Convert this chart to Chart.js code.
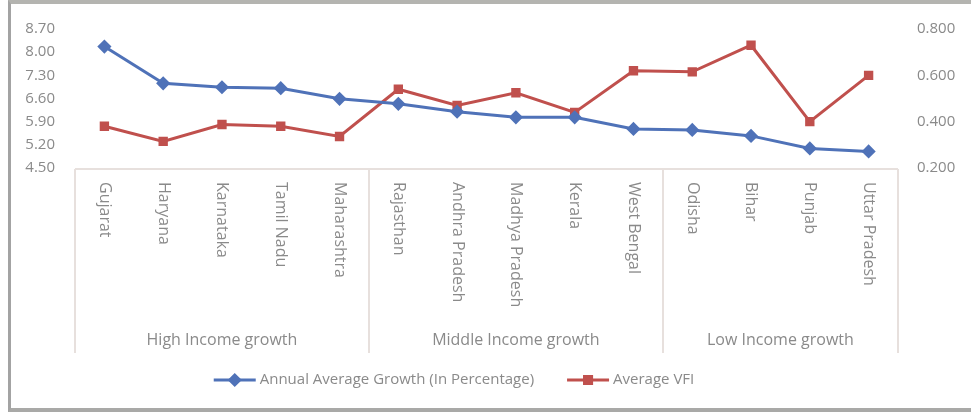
<!DOCTYPE html>
<html>
<head>
<meta charset="utf-8">
<script src="https://cdn.jsdelivr.net/npm/chart.js@4.4.1/dist/chart.umd.min.js"></script>
<style>
   html, body { margin: 0; padding: 0; background: #fff; }
   #wrap { position: absolute; left: 0; top: 0; width: 971px; height: 412px; }
   #frame {
      position: absolute; left: 8px; top: 0; width: 963px; height: 412px;
      box-sizing: border-box; pointer-events: none;
      border-left: 3px solid #a3a3a3;
      border-top: 4px solid #b4b4b0;
      border-bottom: 4px solid #a9a9a7;
   }
</style>
</head>
<body>
<div id="wrap"><canvas id="graphique"></canvas></div>
<div id="frame"></div>
<script>
const states = ["Gujarat", "Haryana", "Karnataka", "Tamil Nadu", "Maharashtra",
   "Rajasthan", "Andhra Pradesh", "Madhya Pradesh", "Kerala", "West Bengal",
   "Odisha", "Bihar", "Punjab", "Uttar Pradesh"];
const groups = ["High Income growth", "Middle Income growth", "Low Income growth"];
const groupSizes = [5, 5, 4];
const growth = [8.17, 7.06, 6.94, 6.91, 6.59, 6.44, 6.20, 6.03, 6.03, 5.68, 5.65, 5.47, 5.09, 5.00];
const vfi = [0.380, 0.315, 0.388, 0.380, 0.336, 0.540, 0.470, 0.525, 0.440, 0.620, 0.615, 0.730, 0.400, 0.600];
const leftTicks = { min: 4.5, max: 8.7, step: 0.7 };
const rightTicks = { min: 0.2, max: 0.8, step: 0.2 };

const BLUE = '#4f72b8';
const RED = '#c0504d';
const TEXT = '#8a8a8a';
const LINE = '#e7e0dd';
const FONT = '"Open Sans", sans-serif';

// category labels, group box and group names under the plot, plus the legend
const underAxis = {
   id: 'underAxis',
   afterDraw(chart) {
      const c = chart.ctx;
      const x = chart.scales.x;
      const area = chart.chartArea;
      const top = area.bottom + 1;
      const boxBottom = 353;

      c.save();
      c.strokeStyle = LINE;
      c.lineWidth = 2;
      c.beginPath();
      c.moveTo(area.left, top);
      c.lineTo(area.right, top);

      // separators at both ends and between groups
      const edges = [area.left];
      let idx = 0;
      groupSizes.forEach(n => {
         idx += n;
         if (idx < states.length) {
            edges.push((x.getPixelForValue(idx - 1) + x.getPixelForValue(idx)) / 2);
         }
      });
      edges.push(area.right);
      edges.forEach(px => {
         c.moveTo(Math.round(px), top);
         c.lineTo(Math.round(px), boxBottom);
      });
      c.stroke();

      // state names, turned to read downwards
      c.fillStyle = TEXT;
      c.font = '16px ' + FONT;
      c.textAlign = 'left';
      c.textBaseline = 'middle';
      states.forEach((s, i) => {
         c.save();
         c.translate(x.getPixelForValue(i), top + 13);
         c.rotate(Math.PI / 2);
         c.fillText(s, 0, 0);
         c.restore();
      });

      // group names
      c.font = '16px ' + FONT;
      c.textAlign = 'center';
      groups.forEach((gname, g) => {
         c.fillText(gname, (edges[g] + edges[g + 1]) / 2, 340);
      });

      // legend
      const items = chart.data.datasets.map(ds => ({
         text: ds.label, color: ds.borderColor, style: ds.pointStyle
      }));
      const sample = 42, gapText = 4, gapItem = 33;
      c.font = '15px ' + FONT;
      const widths = items.map(it => sample + gapText + c.measureText(it.text).width);
      const total = widths.reduce((a, b) => a + b, 0) + gapItem * (items.length - 1);
      let lx = 454 - total / 2;
      const ly = 380;
      c.textAlign = 'left';
      items.forEach((it, i) => {
         c.strokeStyle = it.color;
         c.lineWidth = 3;
         c.beginPath();
         c.moveTo(lx, ly);
         c.lineTo(lx + sample, ly);
         c.stroke();
         c.fillStyle = it.color;
         Chart.helpers.drawPoint(c, { pointStyle: it.style, radius: 5, borderWidth: 1 }, lx + sample / 2, ly);
         c.fillStyle = TEXT;
         c.fillText(it.text, lx + sample + gapText, ly);
         lx += widths[i] + gapItem;
      });
      c.restore();
   }
};

const ctx = document.getElementById('graphique');

const myChart = new Chart(ctx, {
   type: 'line',
   data: {
      labels: states,
      datasets: [{
         label: 'Annual Average Growth (In Percentage)',
         data: growth,
         yAxisID: 'y',
         borderColor: BLUE,
         backgroundColor: BLUE,
         borderWidth: 3,
         pointStyle: 'rectRot',
         pointRadius: 5,
         tension: 0
      }, {
         label: 'Average VFI',
         data: vfi,
         yAxisID: 'y1',
         borderColor: RED,
         backgroundColor: RED,
         borderWidth: 3,
         pointStyle: 'rect',
         pointRadius: 4.5,
         tension: 0
      }]
   },
   options: {
      responsive: true,
      maintainAspectRatio: false,
      animation: false,
      layout: {
         padding: { top: 25, left: 0, right: 0, bottom: 0 }
      },
      scales: {
         x: {
            offset: true,
            ticks: { display: false },
            grid: { display: false, drawTicks: false, offset: true },
            border: { display: false },
            afterFit(scale) { scale.height = 244; }
         },
         y: {
            position: 'left',
            min: leftTicks.min,
            max: leftTicks.max,
            ticks: {
               stepSize: leftTicks.step,
               padding: 20,
               color: TEXT,
               font: { family: FONT, size: 15 },
               callback: v => v.toFixed(2)
            },
            grid: { display: false, drawTicks: false },
            border: { display: false },
            afterFit(scale) { scale.width = 75; }
         },
         y1: {
            position: 'right',
            min: rightTicks.min,
            max: rightTicks.max,
            ticks: {
               stepSize: rightTicks.step,
               padding: 19,
               color: TEXT,
               font: { family: FONT, size: 15 },
               callback: v => v.toFixed(3)
            },
            grid: { display: false, drawTicks: false },
            border: { display: false },
            afterFit(scale) { scale.width = 73; }
         }
      },
      plugins: {
         legend: { display: false },
         tooltip: { enabled: false }
      }
   },
   plugins: [underAxis]
});
</script>
</body>
</html>
